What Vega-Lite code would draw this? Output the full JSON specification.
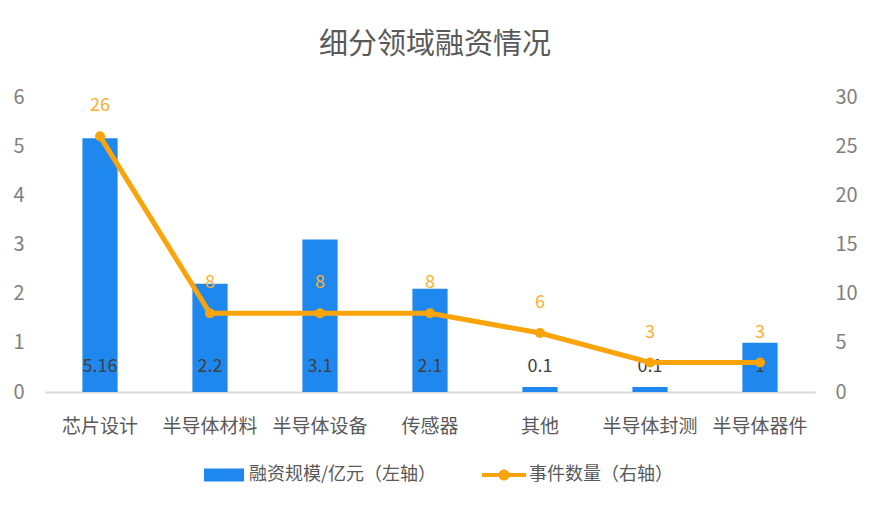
{
  "$schema": "https://vega.github.io/schema/vega-lite/v6.json",
  "width": 770,
  "height": 295,
  "autosize": {"type": "none"},
  "padding": {"left": 45, "top": 97, "right": 54, "bottom": 116},
  "background": "white",
  "title": {"text": "细分领域融资情况", "fontSize": 29, "fontWeight": "normal", "color": "#595959", "offset": 27, "dx": 5, "anchor": "middle", "font": "Noto Sans CJK SC"},
  "config": {"font": "Noto Sans CJK SC", "view": {"stroke": null}, "axis": {"grid": false}},
  "data": {"values": [
    {"domain": "芯片设计", "amount": 5.16, "count": 26},
    {"domain": "半导体材料", "amount": 2.2, "count": 8},
    {"domain": "半导体设备", "amount": 3.1, "count": 8},
    {"domain": "传感器", "amount": 2.1, "count": 8},
    {"domain": "其他", "amount": 0.1, "count": 6},
    {"domain": "半导体封测", "amount": 0.1, "count": 3},
    {"domain": "半导体器件", "amount": 1, "count": 3}
  ]},
  "encoding": {
    "x": {"field": "domain", "type": "nominal", "sort": null,
      "scale": {"paddingInner": 0.68, "paddingOuter": 0.34},
      "axis": {"title": null, "labelAngle": 0, "labelFontSize": 19, "labelColor": "#595959", "ticks": false, "domainColor": "#d9d9d9", "domainWidth": 2, "labelPadding": 25, "labelLimit": 300}}
  },
  "layer": [
    {
      "encoding": {
        "y": {"field": "amount", "type": "quantitative", "scale": {"domain": [0, 6]},
          "axis": {"title": null, "orient": "left", "values": [0, 1, 2, 3, 4, 5, 6], "grid": false, "ticks": false, "domain": false, "labelFontSize": 20, "labelColor": "#7f7f7f", "labelPadding": 21}}
      },
      "layer": [
        {
          "mark": {"type": "bar"},
          "encoding": {
            "color": {"datum": "融资规模/亿元（左轴）", "type": "nominal",
              "scale": {"domain": ["融资规模/亿元（左轴）", "事件数量（右轴）"], "range": ["#1F88EF", "#FBA40A"]},
              "legend": {"title": null, "orient": "none", "legendX": 157, "legendY": 356, "direction": "horizontal", "labelFontSize": 18, "labelColor": "#595959", "labelLimit": 400, "symbolSize": 1936, "columnPadding": 45, "labelOffset": 3, "symbolStrokeWidth": 0, "padding": 0,
                "encode": {"symbols": {"update": {
                  "shape": {"signal": "datum.value === '事件数量（右轴）' ? 'M-1,-0.09L1,-0.09L1,0.09L-1,0.09Z M-0.25,0A0.25,0.25 0 1,1 0.25,0A0.25,0.25 0 1,1 -0.25,0Z' : 'M-0.91,-0.3L0.91,-0.3L0.91,0.3L-0.91,0.3Z'"},
                  "fill": {"signal": "scale('color', datum.value)"},
                  "strokeWidth": {"value": 0},
                  "opacity": {"value": 1}
                }}}}
            }
          }
        },
        {
          "mark": {"type": "text", "dy": -25, "fontSize": 18, "color": "#404040"},
          "encoding": {"y": {"datum": 0}, "text": {"field": "amount", "type": "nominal"}}
        }
      ]
    },
    {
      "encoding": {
        "y": {"field": "count", "type": "quantitative", "scale": {"domain": [0, 30]},
          "axis": {"title": null, "orient": "right", "values": [0, 5, 10, 15, 20, 25, 30], "grid": false, "ticks": false, "domain": false, "labelFontSize": 20, "labelColor": "#7f7f7f", "labelPadding": 20}}
      },
      "layer": [
        {
          "mark": {"type": "line", "strokeWidth": 5, "point": {"filled": true, "size": 100}},
          "encoding": {"color": {"datum": "事件数量（右轴）", "type": "nominal"}}
        },
        {
          "mark": {"type": "text", "dy": -30, "fontSize": 18, "color": "#FBB030"},
          "encoding": {"text": {"field": "count", "type": "nominal"}}
        }
      ]
    }
  ],
  "resolve": {"scale": {"y": "independent"}}
}
